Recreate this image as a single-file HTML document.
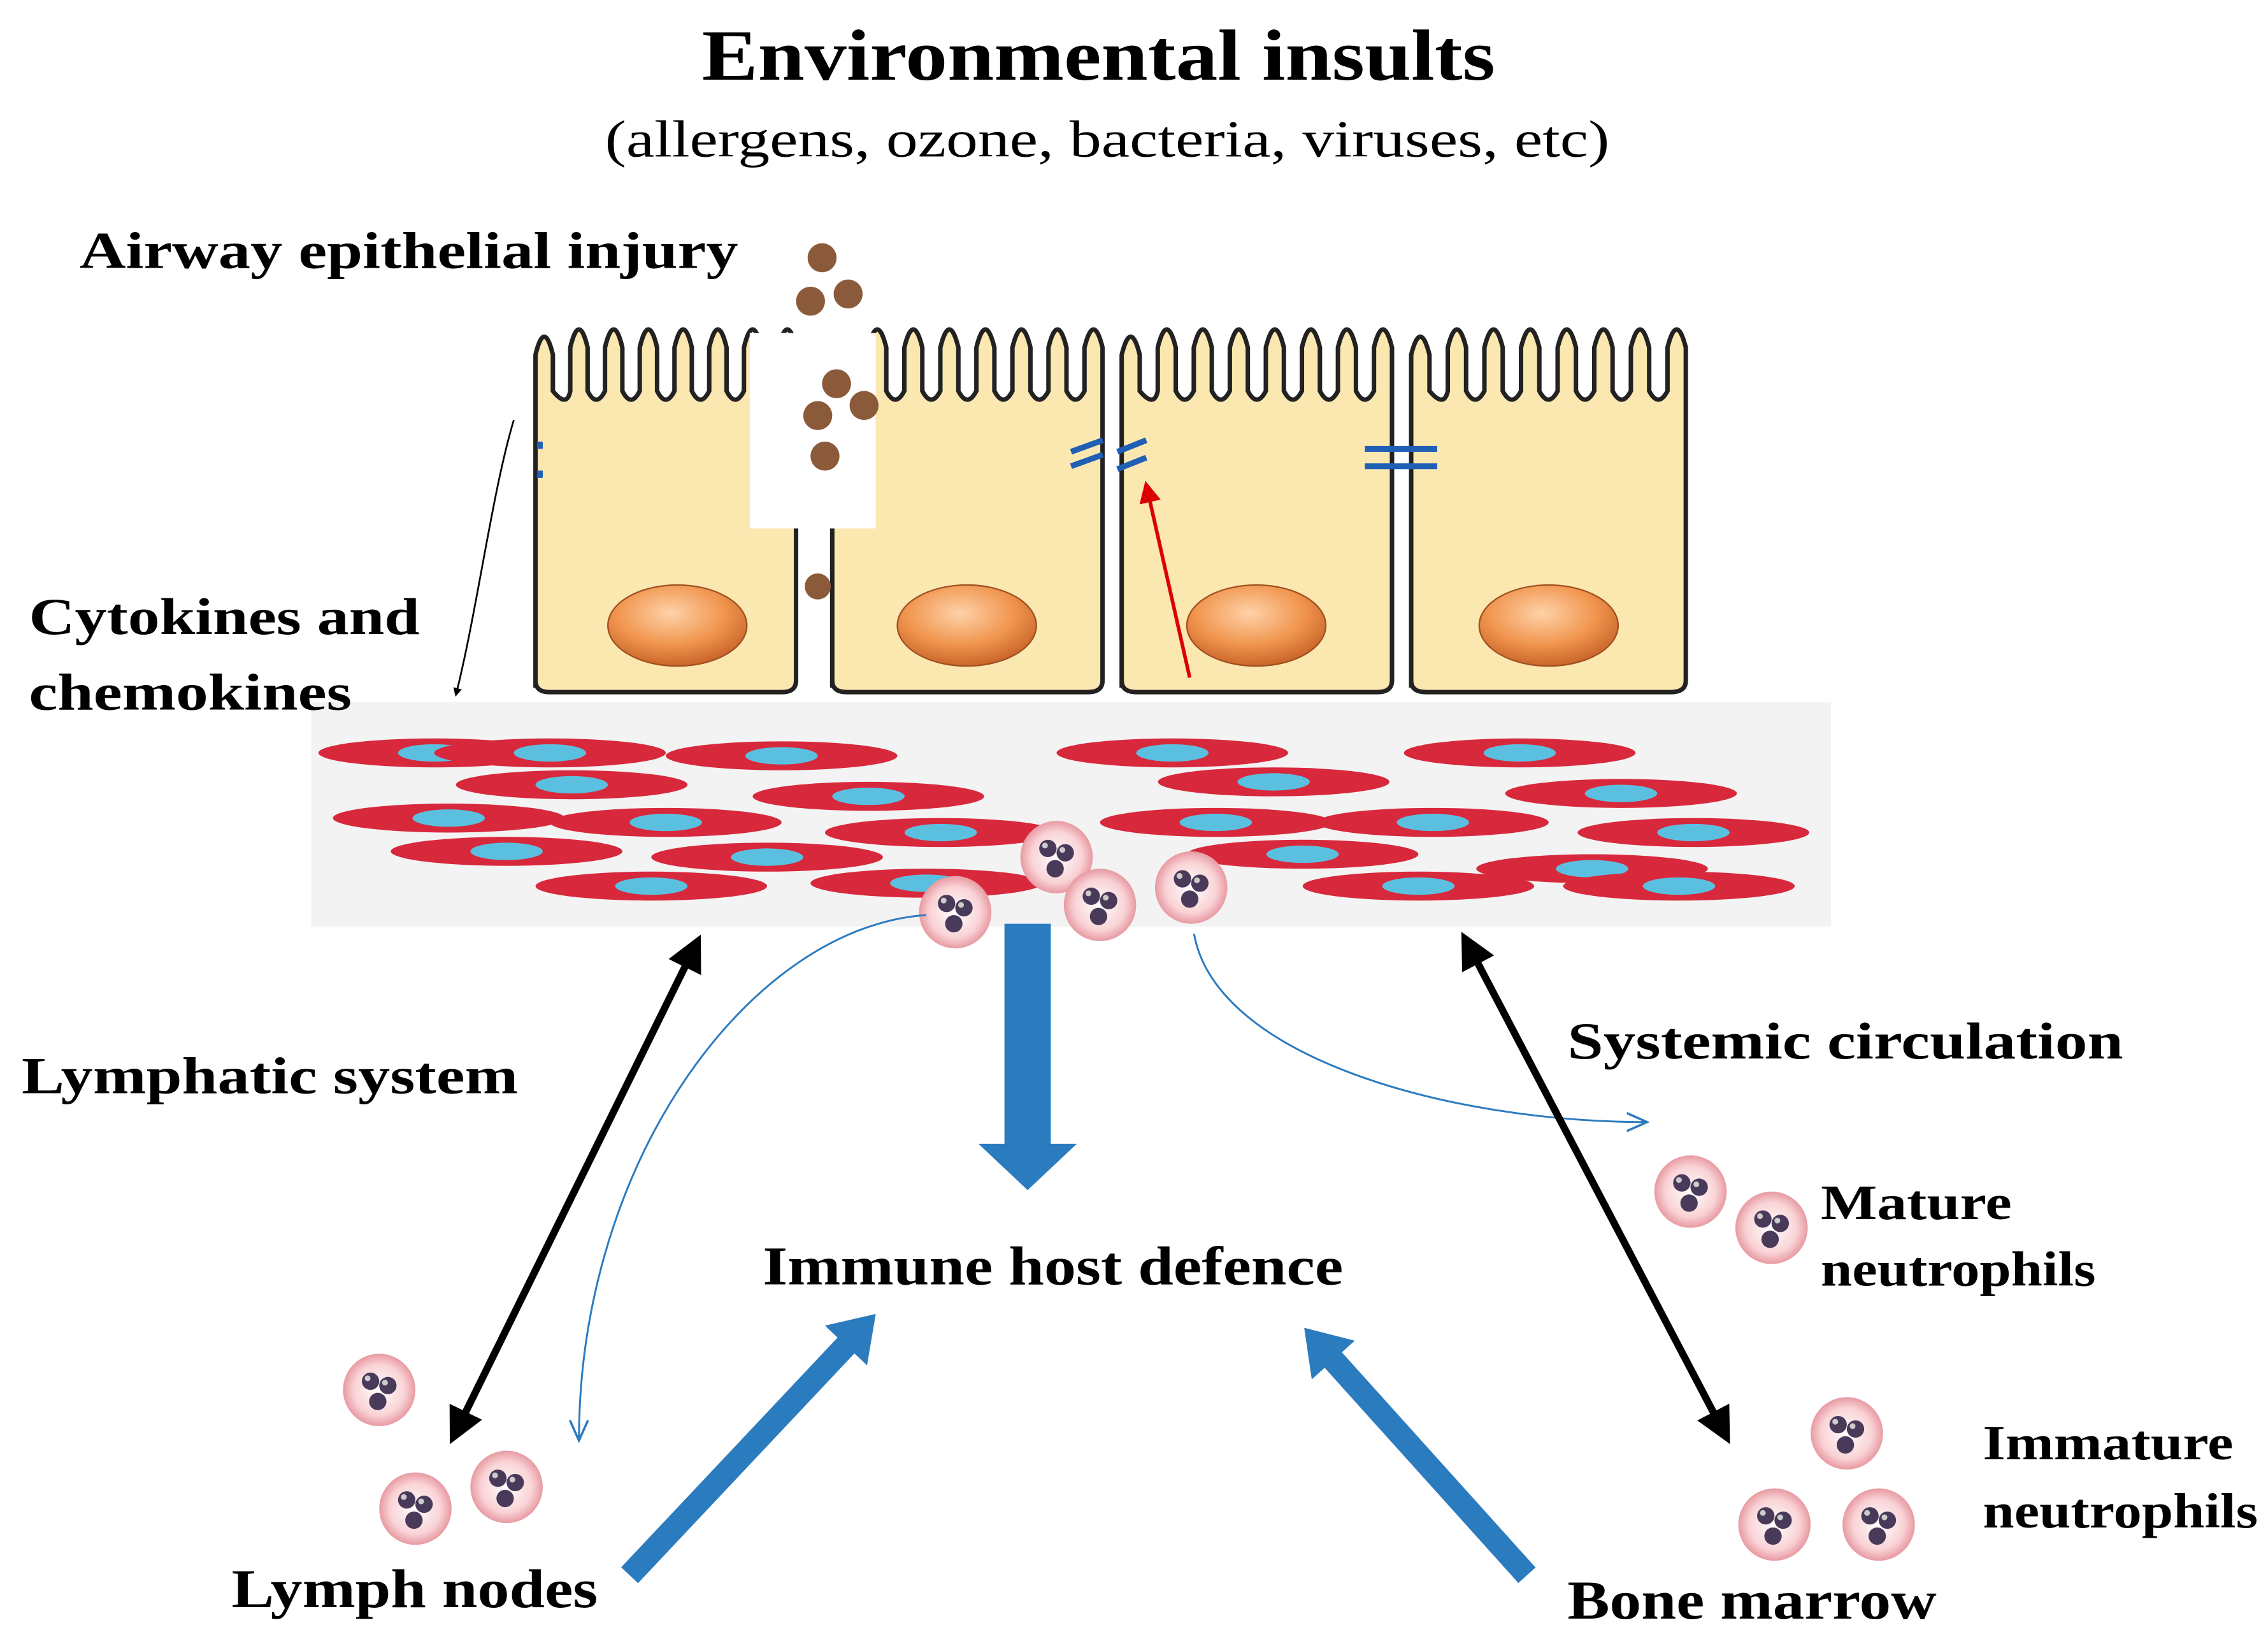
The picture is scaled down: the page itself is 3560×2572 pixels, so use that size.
<!DOCTYPE html>
<html><head><meta charset="utf-8"><style>
html,body{margin:0;padding:0;background:#fff;}
svg{display:block;}
text{font-family:"Liberation Serif",serif;font-weight:bold;fill:#000;}
</style></head><body>
<svg width="3560" height="2572" viewBox="0 0 1567 1132" xmlns="http://www.w3.org/2000/svg">
<defs>
<marker id="ah" viewBox="0 0 10 10" refX="8" refY="5" markerWidth="5" markerHeight="5" orient="auto-start-reverse"><path d="M0,0 L10,5 L0,10 Z" fill="#000"/></marker>
<marker id="bh" viewBox="0 0 10 10" refX="9" refY="5" markerWidth="12" markerHeight="12" orient="auto"><path d="M0,1 L9,5 L0,9" fill="none" stroke="#2b7bbf" stroke-width="1"/></marker>
<marker id="rh" viewBox="0 0 10 10" refX="8" refY="5" markerWidth="6" markerHeight="6" orient="auto"><path d="M0,0 L10,5 L0,10 Z" fill="#d00"/></marker>
<radialGradient id="nuc" cx="45%" cy="35%" r="65%"><stop offset="0" stop-color="#ffd2a8"/><stop offset="0.6" stop-color="#f0954e"/><stop offset="1" stop-color="#c9652a"/></radialGradient>
<radialGradient id="neu" cx="50%" cy="50%" r="50%"><stop offset="0" stop-color="#fff"/><stop offset="0.7" stop-color="#f9d3d6"/><stop offset="1" stop-color="#e89aa2"/></radialGradient>
<g id="n">
<circle r="25" fill="url(#neu)"/>
<circle cx="-6" cy="-6" r="6" fill="#4a3a5a"/><circle cx="6" cy="-3" r="6" fill="#4a3a5a"/><circle cx="-1" cy="8" r="6" fill="#4a3a5a"/>
<circle cx="-8" cy="-8" r="2" fill="#ccc"/><circle cx="4" cy="-5" r="2" fill="#ccc"/>
</g>
<g id="cell">
<path vector-effect="non-scaling-stroke" d="M0,260 L0,30 q5,-25 10,0 l0,25 q8,12 10,0 l0,-30 q5,-25 10,0 l0,30 q5,12 10,0 l0,-30 q5,-25 10,0 l0,30 q5,12 10,0 l0,-30 q5,-25 10,0 l0,30 q5,12 10,0 l0,-30 q5,-25 10,0 l0,30 q5,12 10,0 l0,-30 q5,-25 10,0 l0,30 q5,12 10,0 l0,-30 q5,-25 10,0 l0,30 q5,12 10,0 l0,-30 q5,-25 10,0 l0,230 q0,8 -8,8 l-134,0 q-8,0 -8,-8 Z" fill="#fbe7b0" stroke="#222" stroke-width="7"/>
</g>
<g id="m"><ellipse rx="80" ry="10" fill="#d8283c"/><ellipse rx="25" ry="6" fill="#5bc0e0"/></g>
</defs>

<text x="485" y="55" font-size="50" textLength="548" lengthAdjust="spacingAndGlyphs">Environmental insults</text>
<text x="418" y="108" font-size="36" textLength="694" lengthAdjust="spacingAndGlyphs" style="font-weight:normal">(allergens, ozone, bacteria, viruses, etc)</text>
<text x="55" y="185" font-size="36" textLength="455" lengthAdjust="spacingAndGlyphs">Airway epithelial injury</text>

<g transform="translate(370,215) scale(1.2,1)"><use href="#cell"/></g>
<g transform="translate(575,215) scale(1.245,1)"><use href="#cell"/></g>
<g transform="translate(775,215) scale(1.245,1)"><use href="#cell"/></g>
<g transform="translate(975,215) scale(1.265,1)"><use href="#cell"/></g>
<rect x="518" y="230" width="87" height="135" fill="#fff"/>
<ellipse cx="468" cy="432" rx="48" ry="28" fill="url(#nuc)" stroke="#a05020"/>
<ellipse cx="668" cy="432" rx="48" ry="28" fill="url(#nuc)" stroke="#a05020"/>
<ellipse cx="868" cy="432" rx="48" ry="28" fill="url(#nuc)" stroke="#a05020"/>
<ellipse cx="1070" cy="432" rx="48" ry="28" fill="url(#nuc)" stroke="#a05020"/>
<g fill="#8b5a3a">
<circle cx="568" cy="178" r="10"/><circle cx="560" cy="208" r="10"/><circle cx="586" cy="203" r="10"/>
<circle cx="578" cy="265" r="10"/><circle cx="565" cy="287" r="10"/><circle cx="597" cy="280" r="10"/><circle cx="570" cy="315" r="10"/><circle cx="565" cy="405" r="9"/>
</g>
<g stroke="#1f5fb5" stroke-width="4" fill="none">
<path d="M740,312 l22,-8 M740,322 l22,-8 M772,312 l20,-8 M772,324 l20,-8"/>
<path d="M943,310 h50 M943,322 h50"/>
<path d="M373,305 v5 M373,325 v5"/>
</g>
<line x1="822" y1="468" x2="792" y2="335" stroke="#d00" stroke-width="2.5" marker-end="url(#rh)"/>
<path d="M355,290 C340,340 330,420 315,480" fill="none" stroke="#000" stroke-width="1.2" marker-end="url(#ah)"/>

<rect x="215" y="485" width="1050" height="155" fill="#f3f3f3"/>
<use href="#m" x="300" y="520"/><use href="#m" x="380" y="520"/><use href="#m" x="540" y="522"/><use href="#m" x="395" y="542"/>
<use href="#m" x="600" y="550"/><use href="#m" x="310" y="565"/><use href="#m" x="460" y="568"/><use href="#m" x="350" y="588"/>
<use href="#m" x="530" y="592"/><use href="#m" x="650" y="575"/><use href="#m" x="450" y="612"/><use href="#m" x="640" y="610"/>
<use href="#m" x="810" y="520"/><use href="#m" x="880" y="540"/><use href="#m" x="1050" y="520"/><use href="#m" x="1120" y="548"/>
<use href="#m" x="840" y="568"/><use href="#m" x="990" y="568"/><use href="#m" x="1170" y="575"/><use href="#m" x="900" y="590"/>
<use href="#m" x="1100" y="600"/><use href="#m" x="980" y="612"/><use href="#m" x="1160" y="612"/>

<text x="20" y="438" font-size="36" textLength="270" lengthAdjust="spacingAndGlyphs">Cytokines and</text>
<text x="20" y="490" font-size="36" textLength="223" lengthAdjust="spacingAndGlyphs">chemokines</text>

<use href="#n" x="660" y="630"/><use href="#n" x="730" y="592"/><use href="#n" x="760" y="625"/><use href="#n" x="823" y="613"/>

<path d="M640,632 C520,640 400,800 400,995" fill="none" stroke="#2b7bbf" stroke-width="1.3" marker-end="url(#bh)"/>
<path d="M825,645 C840,730 1000,775 1138,775" fill="none" stroke="#2b7bbf" stroke-width="1.3" marker-end="url(#bh)"/>

<line x1="482" y1="650" x2="313" y2="993" stroke="#000" stroke-width="5" marker-start="url(#ah)" marker-end="url(#ah)"/>
<line x1="1012" y1="648" x2="1193" y2="993" stroke="#000" stroke-width="5" marker-start="url(#ah)" marker-end="url(#ah)"/>

<path d="M694,638 h32 v152 h18 l-34,32 l-34,-32 h18 Z" fill="#2b7bbf"/>
<g transform="translate(435,1088) rotate(-46.7)"><path d="M0,-8 h218 v-12 l30,20 l-30,20 v-12 h-218 Z" fill="#2b7bbf"/></g>
<g transform="translate(1055,1088) rotate(-132)"><path d="M0,-8 h200 v-12 l30,20 l-30,20 v-12 h-200 Z" fill="#2b7bbf"/></g>

<text x="527" y="887" font-size="38" textLength="401" lengthAdjust="spacingAndGlyphs">Immune host defence</text>
<text x="15" y="755" font-size="36" textLength="343" lengthAdjust="spacingAndGlyphs">Lymphatic system</text>
<text x="1083" y="731" font-size="36" textLength="384" lengthAdjust="spacingAndGlyphs">Systemic circulation</text>
<text x="1258" y="842" font-size="34" textLength="132" lengthAdjust="spacingAndGlyphs">Mature</text>
<text x="1258" y="888" font-size="34" textLength="190" lengthAdjust="spacingAndGlyphs">neutrophils</text>
<text x="1370" y="1008" font-size="34" textLength="173" lengthAdjust="spacingAndGlyphs">Immature</text>
<text x="1370" y="1055" font-size="34" textLength="190" lengthAdjust="spacingAndGlyphs">neutrophils</text>
<text x="160" y="1110" font-size="38" textLength="253" lengthAdjust="spacingAndGlyphs">Lymph nodes</text>
<text x="1083" y="1118" font-size="38" textLength="255" lengthAdjust="spacingAndGlyphs">Bone marrow</text>

<use href="#n" x="262" y="960"/><use href="#n" x="287" y="1042"/><use href="#n" x="350" y="1027"/>
<use href="#n" x="1168" y="823"/><use href="#n" x="1224" y="848"/>
<use href="#n" x="1276" y="990"/><use href="#n" x="1226" y="1053"/><use href="#n" x="1298" y="1053"/>
</svg>
</body></html>
